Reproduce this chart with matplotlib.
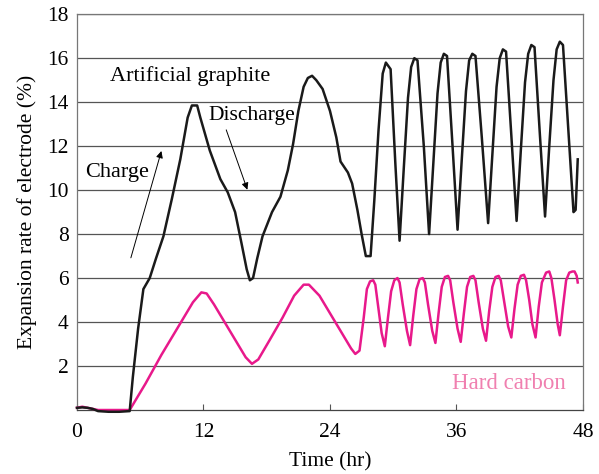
import numpy as np
import matplotlib
matplotlib.use("Agg")
import matplotlib.pyplot as plt

plt.rcParams["font.family"] = ["Liberation Serif", "DejaVu Serif"]

# artificial graphite (black), hours / %
graphiteTime = [0, 0.5, 1.0, 1.5, 2.0, 3.0, 4.0, 5.0, 5.3, 5.8, 6.3, 6.9, 7.5, 8.2, 9.0, 9.8, 10.5,
                10.9, 11.4, 11.7, 12.6, 13.6, 14.3, 15.0, 15.6, 16.1, 16.4, 16.7, 17.1, 17.6, 18.5,
                19.3, 20.0, 20.5, 21.0, 21.5, 21.9, 22.3, 22.7, 23.3, 24.0, 24.6, 25.0, 25.7, 26.1,
                26.6, 27.0, 27.4, 27.85, 28.2, 28.6, 29.0, 29.3, 29.75, 30.2, 30.6,
                31.0, 31.4, 31.7, 32.0, 32.3, 32.9, 33.4,
                33.8, 34.2, 34.5, 34.8, 35.1, 35.6, 36.1,
                36.5, 36.9, 37.2, 37.5, 37.8, 38.4, 39.0,
                39.4, 39.8, 40.1, 40.4, 40.7, 41.2, 41.7,
                42.1, 42.5, 42.8, 43.1, 43.4, 43.9, 44.4,
                44.8, 45.2, 45.5, 45.8, 46.1, 46.6, 47.1, 47.3, 47.5]
graphiteValue = [0.1, 0.12, 0.1, 0.05, -0.05, -0.08, -0.08, -0.05, 1.5, 3.7, 5.5, 6.0, 6.9, 7.9, 9.6, 11.4, 13.3,
                 13.85, 13.85, 13.3, 11.8, 10.5, 9.9, 9.0, 7.6, 6.4, 5.9, 6.0, 6.9, 7.9, 9.0,
                 9.7, 10.9, 12.1, 13.6, 14.7, 15.1, 15.2, 15.0, 14.6, 13.6, 12.4, 11.3, 10.8, 10.3,
                 9.1, 8.0, 7.0, 7.0, 9.5, 12.7, 15.3, 15.8, 15.5, 11.2, 7.7,
                 11.0, 14.2, 15.6, 16.0, 15.9, 12.0, 8.0,
                 11.2, 14.4, 15.8, 16.2, 16.1, 12.2, 8.2,
                 11.4, 14.5, 15.9, 16.2, 16.1, 12.4, 8.5,
                 11.6, 14.7, 16.0, 16.4, 16.3, 12.5, 8.6,
                 11.8, 14.9, 16.2, 16.6, 16.5, 12.6, 8.8,
                 12.0, 15.0, 16.4, 16.75, 16.6, 12.8, 9.0, 9.1, 11.4]

# hard carbon (pink)
carbonTime = [0, 0.5, 1.0, 1.5, 2.0, 3.0, 4.0, 5.0, 6.5, 8.0, 9.5, 11.0, 11.8, 12.3, 13.0, 14.0, 15.0,
              16.0, 16.6, 17.2, 18.3, 19.5, 20.6, 21.5, 22.0, 23.0, 24.0, 25.0, 26.0, 26.4,
              26.8, 27.2, 27.5, 27.8, 28.1, 28.3, 28.6, 28.9, 29.2,
              29.5, 29.8, 30.1, 30.4, 30.6, 30.9, 31.3, 31.6,
              31.9, 32.2, 32.5, 32.8, 33.0, 33.3, 33.7, 34.0,
              34.3, 34.6, 34.9, 35.2, 35.4, 35.7, 36.1, 36.4,
              36.7, 37.0, 37.3, 37.6, 37.8, 38.1, 38.5, 38.8,
              39.1, 39.4, 39.7, 40.0, 40.2, 40.5, 40.9, 41.2,
              41.5, 41.8, 42.1, 42.4, 42.6, 42.9, 43.2, 43.5,
              43.8, 44.1, 44.5, 44.8, 45.0, 45.3, 45.6, 45.8,
              46.1, 46.4, 46.7, 47.0, 47.2, 47.4, 47.5]
carbonValue = [0.1, 0.15, 0.1, 0.05, 0.0, 0.0, 0.0, 0.0, 1.2, 2.5, 3.7, 4.9, 5.35, 5.3, 4.8, 4.0, 3.2,
               2.4, 2.1, 2.3, 3.2, 4.2, 5.2, 5.7, 5.7, 5.2, 4.4, 3.6, 2.8, 2.55,
               2.7, 4.2, 5.5, 5.85, 5.9, 5.7, 4.6, 3.5, 2.9,
               4.2, 5.4, 5.9, 6.0, 5.8, 4.8, 3.6, 2.95,
               4.3, 5.5, 5.95, 6.0, 5.8, 4.8, 3.6, 3.05,
               4.4, 5.6, 6.05, 6.1, 5.9, 4.9, 3.7, 3.1,
               4.4, 5.6, 6.05, 6.1, 5.9, 4.9, 3.7, 3.15,
               4.5, 5.6, 6.05, 6.1, 5.9, 5.0, 3.8, 3.3,
               4.6, 5.7, 6.1, 6.15, 5.9, 5.0, 3.9, 3.3,
               4.7, 5.8, 6.25, 6.3, 6.0, 5.0, 3.9, 3.4,
               4.7, 5.9, 6.25, 6.3, 6.3, 6.1, 5.8]

xTicks = [0, 12, 24, 36, 48]
yTicks = [2, 4, 6, 8, 10, 12, 14, 16, 18]

fig = plt.figure(figsize=(5.99, 4.74), dpi=100)
ax = fig.add_axes([0.1285, 0.135, 0.8448, 0.835])

for yv in yTicks:
    ax.axhline(yv, color="#555555", lw=0.9, zorder=1)

ax.plot(carbonTime, carbonValue, color="#e8198b", lw=1.8, zorder=3, clip_on=False)
ax.plot(graphiteTime, graphiteValue, color="#1a1a1a", lw=1.8, zorder=4, clip_on=False)

ax.set_xlim(0, 48)
ax.set_ylim(0, 18)
ax.set_xticks(xTicks)
ax.set_yticks(yTicks)
ax.tick_params(axis="x", direction="in", length=4, color="#555555", labelsize=15.5, pad=9)
ax.tick_params(axis="y", length=0, labelsize=15.5, pad=6)
for s in ax.spines.values():
    s.set_color("#777777")
    s.set_linewidth(0.9)
ax.spines["bottom"].set_color("#444444")

ax.set_xlabel("Time (hr)", fontsize=15.5, labelpad=8)
ax.set_ylabel("Expansion rate of electrode (%)", fontsize=15.5, labelpad=7)

ax.text(3.1, 15.2, "Artificial graphite", fontsize=16, va="center", zorder=5)
ax.text(12.45, 13.4, "Discharge", fontsize=15.5, va="center", zorder=5)
ax.text(0.76, 10.8, "Charge", fontsize=16, va="center", zorder=5)
ax.text(35.6, 1.2, "Hard carbon", fontsize=16.5, va="center", color="#f080b0", zorder=5)

ax.annotate("", xy=(8.08, 11.9), xytext=(5.04, 6.8),
            arrowprops=dict(arrowstyle="-|>", color="black", lw=0.7, mutation_scale=10))
ax.annotate("", xy=(16.25, 9.9), xytext=(14.07, 12.86),
            arrowprops=dict(arrowstyle="-|>", color="black", lw=0.7, mutation_scale=10))

fig.savefig("out.png", dpi=100)
